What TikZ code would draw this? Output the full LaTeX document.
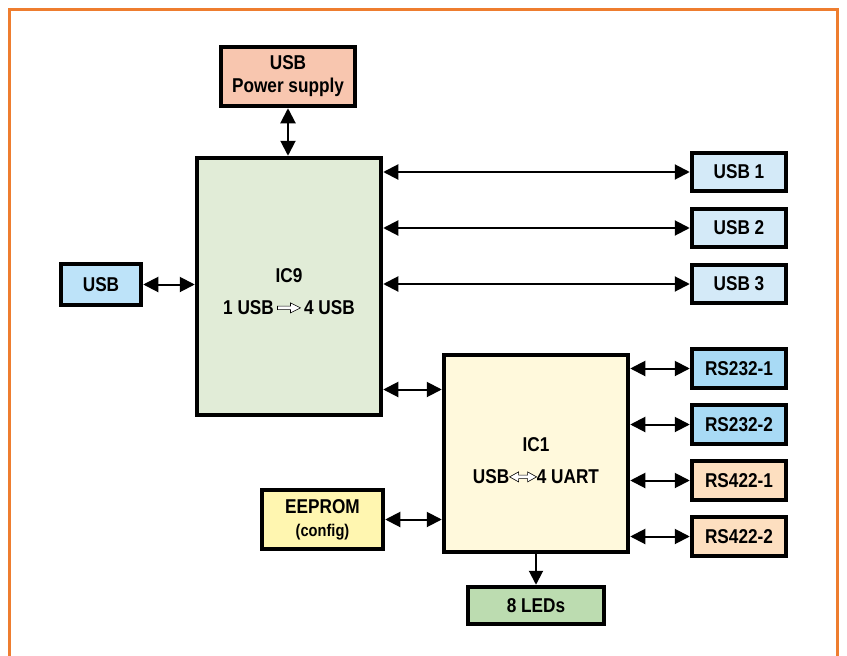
\documentclass[tikz,border=0pt]{standalone}
\usepackage{fontspec}
\setmainfont{Liberation Sans}[FakeStretch=0.86]
\usetikzlibrary{arrows.meta}
\definecolor{frameor}{HTML}{EE7D2F}
\definecolor{cpwr}{HTML}{F8C6AF}
\definecolor{cicnine}{HTML}{E1ECD7}
\definecolor{cusb}{HTML}{BDE3F9}
\definecolor{cusbn}{HTML}{D4EAF8}
\definecolor{crstwo}{HTML}{A8DAF5}
\definecolor{crsfour}{HTML}{FDDFC0}
\definecolor{cicone}{HTML}{FFF9DC}
\definecolor{ceep}{HTML}{FFF6B0}
\definecolor{cled}{HTML}{BCDCB0}
\newcommand{\hollowR}{\tikz[baseline=-6.5pt]\draw[line width=0.6pt,fill=white] (0pt,-1.8pt)--(13pt,-1.8pt)--(13pt,-5pt)--(23pt,0pt)--(13pt,5pt)--(13pt,1.8pt)--(0pt,1.8pt)--cycle;}
\newcommand{\hollowLR}{\tikz[baseline=-6.5pt]\draw[line width=0.6pt,fill=white] (0pt,0pt)--(9pt,-5pt)--(9pt,-1.8pt)--(18pt,-1.8pt)--(18pt,-5pt)--(27pt,0pt)--(18pt,5pt)--(18pt,1.8pt)--(9pt,1.8pt)--(9pt,5pt)--cycle;}
\begin{document}
\begin{tikzpicture}[x=1pt,y=-1pt,
  box/.style={draw=black,line width=4.5pt,inner sep=0pt,align=center,
    font=\fontsize{20}{31}\selectfont\bfseries},
  txt/.style={inner sep=0pt,align=center,font=\fontsize{20}{32}\selectfont\bfseries},
  arr/.style={line width=2pt,{Triangle[length=15pt,width=15pt]}-{Triangle[length=15pt,width=15pt]}},
  arrone/.style={line width=2pt,-{Triangle[length=14pt,width=14pt]}}]
\useasboundingbox (0,0) rectangle (847,656);
\fill[white] (0,0) rectangle (847,656);
\draw[frameor,line width=3pt] (9.5,660) -- (9.5,9.5) -- (837.5,9.5) -- (837.5,660);

\node[box,fill=cpwr,minimum width=134pt,minimum height=59pt,font=\fontsize{20}{23}\selectfont\bfseries] (pwr) at (288,76.5) {USB\\Power supply};
\node[box,fill=cicnine,minimum width=184pt,minimum height=257pt] (ic9) at (289,286.5) {};
\node[txt] (ic9t) at ([yshift=-5pt]ic9.center) {IC9\\1 USB\,\hollowR\,4 USB};
\node[box,fill=cusb,minimum width=80pt,minimum height=41pt] (usb) at (101,284.5) {USB};
\node[box,fill=cusbn,minimum width=94pt,minimum height=38pt] (usb1) at (739,172) {USB 1};
\node[box,fill=cusbn,minimum width=94pt,minimum height=38pt] (usb2) at (739,228) {USB 2};
\node[box,fill=cusbn,minimum width=94pt,minimum height=38pt] (usb3) at (739,284) {USB 3};
\node[box,fill=cicone,minimum width=184pt,minimum height=197pt] (ic1) at (536,453.5) {};
\node[txt] (ic1t) at ([yshift=-7pt]ic1.center) {IC1\\USB\hollowLR4 UART};
\node[box,fill=crstwo,minimum width=94pt,minimum height=39pt] (rs1) at (739,368.5) {RS232-1};
\node[box,fill=crstwo,minimum width=94pt,minimum height=39pt] (rs2) at (739,424.5) {RS232-2};
\node[box,fill=crsfour,minimum width=94pt,minimum height=39pt] (rs3) at (739,480.5) {RS422-1};
\node[box,fill=crsfour,minimum width=94pt,minimum height=39pt] (rs4) at (739,536.5) {RS422-2};
\node[box,fill=ceep,minimum width=121pt,minimum height=59pt,font=\fontsize{20}{23}\selectfont\bfseries] (eep) at (322.5,519.5) {EEPROM\\{\fontsize{17}{17}\selectfont(config)}};
\node[box,fill=cled,minimum width=136pt,minimum height=37pt] (led) at (536,605.5) {8 LEDs};

\draw[arr] (pwr.south) -- (pwr.south |- ic9.north);
\draw[arr] (usb.east) -- (usb.east -| ic9.west);
\draw[arr] (ic9.east |- usb1.west) -- (usb1.west);
\draw[arr] (ic9.east |- usb2.west) -- (usb2.west);
\draw[arr] (ic9.east |- usb3.west) -- (usb3.west);
\path (ic1.west) ++(0,-64) coordinate (c91);
\draw[arr] (ic9.east |- c91) -- (c91);
\draw[arr] (ic1.east |- rs1.west) -- (rs1.west);
\draw[arr] (ic1.east |- rs2.west) -- (rs2.west);
\draw[arr] (ic1.east |- rs3.west) -- (rs3.west);
\draw[arr] (ic1.east |- rs4.west) -- (rs4.west);
\draw[arr] (eep.east) -- (eep.east -| ic1.west);
\draw[arrone] (ic1.south) -- (led.north);
\end{tikzpicture}
\end{document}
